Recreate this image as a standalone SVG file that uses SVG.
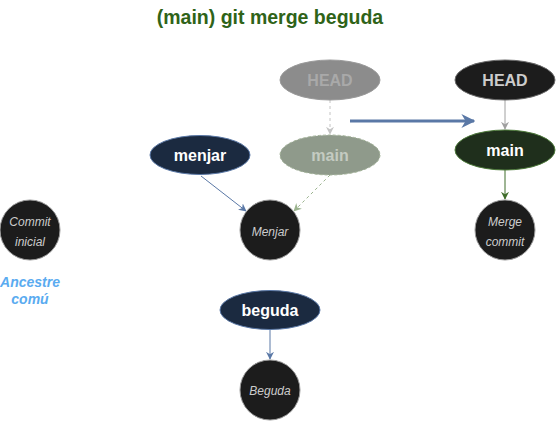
<svg xmlns="http://www.w3.org/2000/svg" width="556" height="421" viewBox="0 0 556 421">
<style>
.commit{fill:#1c1c1c;stroke:#9a9a9a;stroke-width:1}
.ctext{font-family:"Liberation Sans",Arial,sans-serif;font-style:italic;font-size:12px;fill:#cccccc;text-anchor:middle}
.btext{font-family:"Liberation Sans",Arial,sans-serif;font-weight:bold;font-size:16px;text-anchor:middle}
</style>
<defs>
<marker id="aBlue" viewBox="0 0 10 10" refX="9" refY="5" markerWidth="8" markerHeight="8" markerUnits="userSpaceOnUse" orient="auto"><path d="M0,0 L10,5 L0,10 L3,5 z" fill="#5a78a6"/></marker>
<marker id="aGray" viewBox="0 0 10 10" refX="9" refY="5" markerWidth="8" markerHeight="8" markerUnits="userSpaceOnUse" orient="auto"><path d="M0,0 L10,5 L0,10 L3,5 z" fill="#a0a0a0"/></marker>
<marker id="aLGray" viewBox="0 0 10 10" refX="9" refY="5" markerWidth="8" markerHeight="8" markerUnits="userSpaceOnUse" orient="auto"><path d="M0,0 L10,5 L0,10 L3,5 z" fill="#c4c4c4"/></marker>
<marker id="aLGreen" viewBox="0 0 10 10" refX="9" refY="5" markerWidth="8" markerHeight="8" markerUnits="userSpaceOnUse" orient="auto"><path d="M0,0 L10,5 L0,10 L3,5 z" fill="#9cb48f"/></marker>
<marker id="aGreen" viewBox="0 0 10 10" refX="9" refY="5" markerWidth="8" markerHeight="8" markerUnits="userSpaceOnUse" orient="auto"><path d="M0,0 L10,5 L0,10 L3,5 z" fill="#3f6d2a"/></marker>
<marker id="aBig" viewBox="0 0 10 10" refX="9" refY="5" markerWidth="14" markerHeight="14" markerUnits="userSpaceOnUse" orient="auto"><path d="M0,0 L10,5 L0,10 L3,5 z" fill="#5a78a6"/></marker>
</defs>
<rect width="556" height="421" fill="#ffffff"/>
<text x="270" y="24" font-family="'Liberation Sans',Arial,sans-serif" font-weight="bold" font-size="19.5" fill="#2f6318" text-anchor="middle">(main) git merge beguda</text>
<g id="connectors" fill="none">
<line x1="330" y1="100" x2="330" y2="134" stroke="#c4c4c4" stroke-dasharray="3,3" marker-end="url(#aLGray)"/>
<line x1="201" y1="176" x2="246" y2="211" stroke="#5a78a6" marker-end="url(#aBlue)"/>
<line x1="330" y1="175" x2="294" y2="211" stroke="#9cb48f" stroke-dasharray="3,3" marker-end="url(#aLGreen)"/>
<line x1="350" y1="121" x2="474" y2="121" stroke="#5a78a6" stroke-width="3" marker-end="url(#aBig)"/>
<line x1="505" y1="100" x2="505" y2="129" stroke="#a0a0a0" marker-end="url(#aGray)"/>
<line x1="505" y1="170" x2="505" y2="199" stroke="#3f6d2a" marker-end="url(#aGreen)"/>
<line x1="270" y1="329" x2="270" y2="359" stroke="#5a78a6" marker-end="url(#aBlue)"/>
</g>
<g id="head-old">
<ellipse cx="330" cy="80" rx="50" ry="20" fill="#8c8c8c" stroke="#9a9a9a"/>
<text class="btext" x="330" y="86" fill="#a9a9a9">HEAD</text>
</g>
<g id="main-old">
<ellipse cx="330" cy="155" rx="50" ry="20" fill="#8f9a8b" stroke="#a4b49a" stroke-dasharray="3,2"/>
<text class="btext" x="330" y="161" fill="#c4cbc1">main</text>
</g>
<g id="menjar-branch">
<ellipse cx="200" cy="155" rx="50" ry="19.5" fill="#1b2a40" stroke="#5a78a6"/>
<text class="btext" x="200" y="161" fill="#ffffff">menjar</text>
</g>
<g id="menjar-commit">
<circle class="commit" cx="270" cy="230" r="30"/>
<text class="ctext" x="270" y="236">Menjar</text>
</g>
<g id="head-new">
<ellipse cx="505" cy="80" rx="50" ry="20" fill="#1c1c1c" stroke="#6a6a6a"/>
<text class="btext" x="505" y="86" fill="#cccccc">HEAD</text>
</g>
<g id="main-new">
<ellipse cx="505" cy="150" rx="50" ry="20" fill="#1f2f1c" stroke="#4d7a3a"/>
<text class="btext" x="505" y="156" fill="#ffffff">main</text>
</g>
<g id="merge-commit">
<circle class="commit" cx="505" cy="230" r="30"/>
<text class="ctext" x="505" y="226">Merge</text>
<text class="ctext" x="505" y="246">commit</text>
</g>
<g id="initial-commit">
<circle class="commit" cx="30" cy="230" r="30"/>
<text class="ctext" x="30" y="226">Commit</text>
<text class="ctext" x="30" y="246">inicial</text>
</g>
<g id="ancestre">
<text x="30" y="287" font-family="'Liberation Sans',Arial,sans-serif" font-weight="bold" font-style="italic" font-size="14" fill="#5aabf0" text-anchor="middle">Ancestre</text>
<text x="30" y="304" font-family="'Liberation Sans',Arial,sans-serif" font-weight="bold" font-style="italic" font-size="14" fill="#5aabf0" text-anchor="middle">comú</text>
</g>
<g id="beguda-branch">
<ellipse cx="270" cy="310" rx="50" ry="19.5" fill="#1b2a40" stroke="#5a78a6"/>
<text class="btext" x="270" y="316" fill="#ffffff">beguda</text>
</g>
<g id="beguda-commit">
<circle class="commit" cx="270" cy="390" r="30"/>
<text class="ctext" x="270" y="395">Beguda</text>
</g>
</svg>
